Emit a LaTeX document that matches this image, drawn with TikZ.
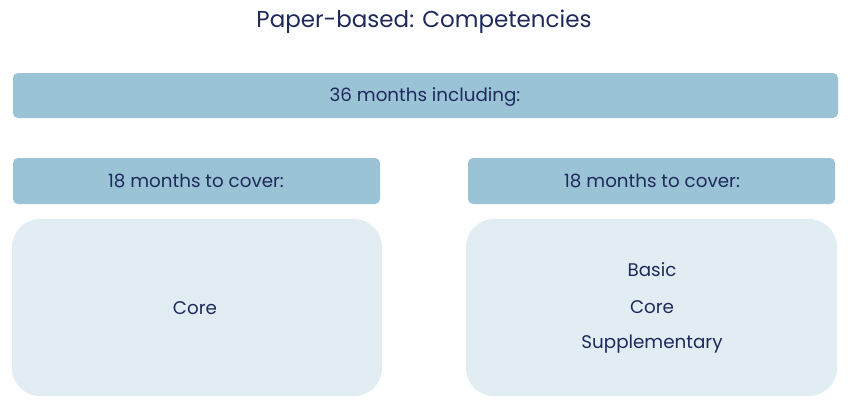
\documentclass[tikz,border=0pt]{standalone}
\usepackage{fontspec}
\setmainfont{Poppins}
\definecolor{hdr}{HTML}{9AC3D6}
\definecolor{bodyc}{HTML}{E1ECF3}
\definecolor{txt}{HTML}{1F2A5C}
\begin{document}
\begin{tikzpicture}[x=1pt,y=-1pt,
  hdrbox/.style={fill=hdr, rounded corners=5pt},
  bodybox/.style={fill=bodyc, rounded corners=28pt},
  lbl/.style={text=txt, font=\fontsize{18.3}{22}\selectfont, inner sep=0pt, anchor=center},
  ttl/.style={text=txt, font=\fontsize{23}{28}\selectfont, inner sep=0pt, anchor=center}]
\useasboundingbox (0,0) rectangle (848,412);
\fill[white] (0,0) rectangle (848,412);
\node[ttl] (title) at (424,22) {Paper-based: Competencies};
\path[hdrbox] (13,73) rectangle (838,118);
\node[lbl] (top) at (425,97) {36 months including:};
\path[hdrbox] (13,158) rectangle (380,204);
\node[lbl] (lh) at (196,181) {18 months to cover:};
\path[hdrbox] (468,158) rectangle (835,204);
\node[lbl] (rh) at (652,181) {18 months to cover:};
\path[bodybox] (12,219) rectangle (382,396);
\node[lbl] (lcore) at (195,308) {Core};
\path[bodybox] (466,219) rectangle (837,396);
\node[lbl] (basic) at (652,270) {Basic};
\node[lbl] (rcore) at (652,307) {Core};
\node[lbl] (supp) at (652,344) {Supplementary};
\end{tikzpicture}
\end{document}
